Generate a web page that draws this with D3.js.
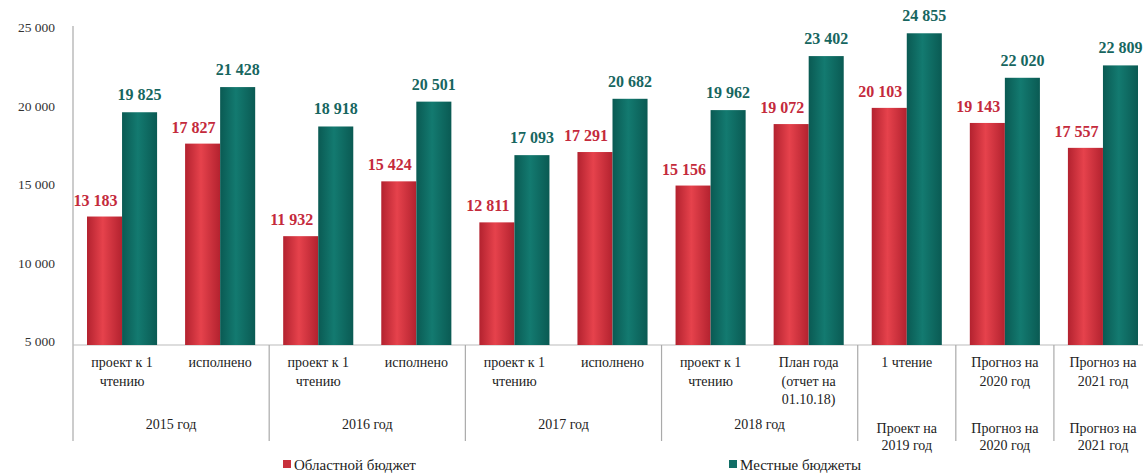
<!DOCTYPE html>
<html>
<head>
<meta charset="utf-8">
<script src="https://cdn.jsdelivr.net/npm/d3@7"></script>
<style>
  body { margin: 0; background: #fff; }
</style>
</head>
<body>
<div id="chart"></div>
<script>
// data
const categories = ["проект к 1|чтению", "исполнено", "проект к 1|чтению", "исполнено",
  "проект к 1|чтению", "исполнено", "проект к 1|чтению", "План года|(отчет на|01.10.18)",
  "1 чтение", "Прогноз на|2020 год", "Прогноз на|2021 год"];
const groups = ["2015 год", "2016 год", "2017 год", "2018 год", "Проект на|2019 год", "Прогноз на|2020 год", "Прогноз на|2021 год"];
const groupSizes = [2, 2, 2, 2, 1, 1, 1];
const regional = [13183, 17827, 11932, 15424, 12811, 17291, 15156, 19072, 20103, 19143, 17557];
const local = [19825, 21428, 18918, 20501, 17093, 20682, 19962, 23402, 24855, 22020, 22809];
const yTicks = [5000, 10000, 15000, 20000, 25000];
const seriesNames = ["Областной бюджет", "Местные бюджеты"];

const width = 1143, height = 476;
const fmt = v => d3.format(",")(v).replace(",", " ");

const svg = d3.select("#chart").append("svg")
  .attr("width", width).attr("height", height)
  .attr("font-family", "'Liberation Serif', 'Times New Roman', 'DejaVu Serif', serif");

// cylinder shading
const defs = svg.append("defs");
function grad(id, edge, mid) {
  const g = defs.append("linearGradient").attr("id", id).attr("x1", "0%").attr("x2", "100%");
  g.append("stop").attr("offset", "0%").attr("stop-color", edge);
  g.append("stop").attr("offset", "45%").attr("stop-color", mid);
  g.append("stop").attr("offset", "100%").attr("stop-color", edge);
}
grad("gRed", "#b3222f", "#e6424c");
grad("gTeal", "#0a5a53", "#137a70");

const x = d3.scaleBand().domain(d3.range(categories.length)).range([73, 1152]);
const bw = x.bandwidth();
const xi = d3.scaleBand().domain([0, 1]).range([14, bw - 14]);
const y = d3.scaleLinear().domain([5000, 25000]).range([345, 31]);

// y axis labels
svg.selectAll(".ytick").data(yTicks).enter().append("text")
  .attr("x", 55).attr("y", d => y(d) + 1)
  .attr("text-anchor", "end").attr("font-size", 13.5).attr("fill", "#333")
  .text(d => fmt(d));

// axis lines
svg.append("line").attr("x1", 73).attr("x2", 73).attr("y1", 26).attr("y2", 441)
  .attr("stroke", "#aaa").attr("stroke-width", 1.2);
svg.append("line").attr("x1", 73).attr("x2", width).attr("y1", y(5000)).attr("y2", y(5000))
  .attr("stroke", "#bbb").attr("stroke-width", 1.2);

// group separators
let idx = 0;
const groupPos = groups.map((g, i) => {
  const start = idx; idx += groupSizes[i];
  return {label: g, x0: x(start), x1: x(idx - 1) + bw};
});
svg.selectAll(".sep").data(groupPos.slice(0, -1)).enter().append("line")
  .attr("x1", d => d.x1).attr("x2", d => d.x1)
  .attr("y1", y(5000)).attr("y2", 441)
  .attr("stroke", "#aaa").attr("stroke-width", 1.2);

// bars
svg.selectAll(".barR").data(regional).enter().append("rect")
  .attr("x", (d, i) => x(i) + xi(0)).attr("width", xi.bandwidth())
  .attr("y", d => y(d)).attr("height", d => y(5000) - y(d))
  .attr("fill", "url(#gRed)");
svg.selectAll(".barT").data(local).enter().append("rect")
  .attr("x", (d, i) => x(i) + xi(1)).attr("width", xi.bandwidth())
  .attr("y", d => y(d)).attr("height", d => y(5000) - y(d))
  .attr("fill", "url(#gTeal)");

// value labels
svg.selectAll(".lblR").data(regional).enter().append("text")
  .attr("x", (d, i) => x(i) + xi(0) + xi.bandwidth() / 2 - 9)
  .attr("y", d => y(d) - 11)
  .attr("text-anchor", "middle").attr("font-size", 16).attr("font-weight", "bold")
  .attr("fill", "#c42a3c").text(d => fmt(d));
svg.selectAll(".lblT").data(local).enter().append("text")
  .attr("x", (d, i) => x(i) + xi(1) + xi.bandwidth() / 2)
  .attr("y", d => y(d) - 12)
  .attr("text-anchor", "middle").attr("font-size", 16).attr("font-weight", "bold")
  .attr("fill", "#17665f").text(d => fmt(d));

// category labels
categories.forEach((c, i) => {
  const t = svg.append("text").attr("text-anchor", "middle")
    .attr("font-size", 14).attr("fill", "#222");
  c.split("|").forEach((line, j) => {
    t.append("tspan").attr("x", x(i) + bw / 2).attr("y", 367 + j * 18.5).text(line);
  });
});

// group labels
groupPos.forEach(g => {
  const lines = g.label.split("|");
  const t = svg.append("text").attr("text-anchor", "middle")
    .attr("font-size", 14).attr("fill", "#222");
  lines.forEach((line, j) => {
    t.append("tspan").attr("x", (g.x0 + g.x1) / 2)
      .attr("y", (lines.length > 1 ? 433 : 429) + j * 17).text(line);
  });
});

// legend
const legend = [{x: 283, c: "#c8303c"}, {x: 729, c: "#116e66"}];
legend.forEach((l, i) => {
  svg.append("rect").attr("x", l.x).attr("y", 460).attr("width", 8).attr("height", 8).attr("fill", l.c);
  svg.append("text").attr("x", l.x + 11).attr("y", 470)
    .attr("font-size", 15).attr("fill", "#222").text(seriesNames[i]);
});
</script>
</body>
</html>
